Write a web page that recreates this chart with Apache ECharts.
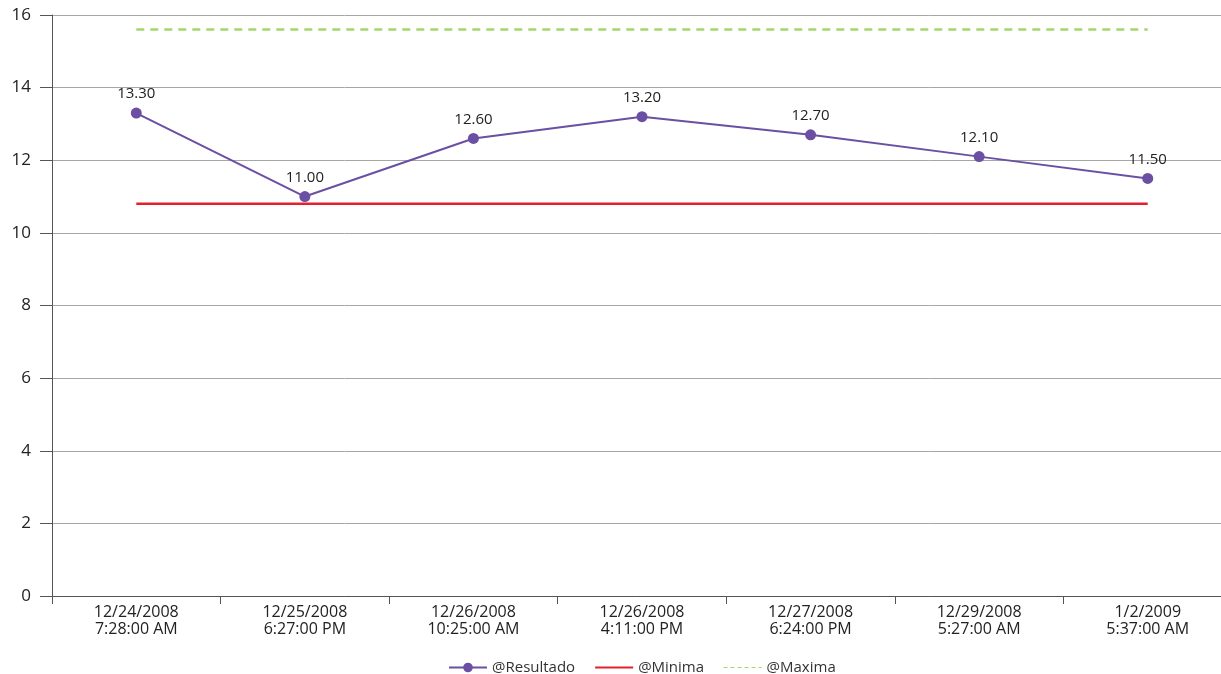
<!DOCTYPE html>
<html>
<head>
<meta charset="utf-8">
<script src="https://cdn.jsdelivr.net/npm/echarts@6/dist/echarts.min.js"></script>
<style>
  html, body { margin: 0; padding: 0; background: #fff; }
  #chart { width: 1221px; height: 674px; }
</style>
</head>
<body>
<div id="chart"></div>
<script>
// Sample timestamps (two-line labels)
const categories = [
  '12/24/2008\n7:28:00 AM',
  '12/25/2008\n6:27:00 PM',
  '12/26/2008\n10:25:00 AM',
  '12/26/2008\n4:11:00 PM',
  '12/27/2008\n6:24:00 PM',
  '12/29/2008\n5:27:00 AM',
  '1/2/2009\n5:37:00 AM'
];
// Measured results
const resultado = [13.30, 11.00, 12.60, 13.20, 12.70, 12.10, 11.50];
// Lower and upper limits
const minima = [10.8, 10.8, 10.8, 10.8, 10.8, 10.8, 10.8];
const maxima = [15.6, 15.6, 15.6, 15.6, 15.6, 15.6, 15.6];
// Value axis ticks
const yTicks = [0, 2, 4, 6, 8, 10, 12, 14, 16];

const font = '"Open Sans", "Noto Sans", sans-serif';
const chart = echarts.init(document.getElementById('chart'));
chart.setOption({
  animation: false,
  textStyle: { fontFamily: font },
  grid: { left: 52, width: 1180, top: 15, height: 581, containLabel: false, outerBoundsMode: 'none' },
  legend: {
    top: 655,
    left: 443,
    itemWidth: 38,
    itemHeight: 12,
    itemGap: 19,
    textStyle: { fontFamily: font, fontSize: 15, color: '#333' },
    data: [
      { name: '@Resultado' },
      { name: '@Minima', itemStyle: { opacity: 0 } },
      { name: '@Maxima', itemStyle: { opacity: 0 }, lineStyle: { color: '#a6d66e', width: 1, type: [4, 3] } }
    ]
  },
  xAxis: {
    type: 'category',
    data: categories,
    boundaryGap: true,
    axisLine: { lineStyle: { color: '#555', width: 1 } },
    axisTick: { show: true, length: 8, lineStyle: { color: '#555' } },
    axisLabel: { margin: 8, fontSize: 16, lineHeight: 17, color: '#222', interval: 0, fontFamily: font },
    splitLine: { show: false }
  },
  yAxis: {
    type: 'value',
    min: yTicks[0],
    max: yTicks[yTicks.length - 1],
    interval: 2,
    axisLine: { show: true, lineStyle: { color: '#555', width: 1 } },
    axisTick: { show: true, length: 12, lineStyle: { color: '#555' } },
    axisLabel: { margin: 21, fontSize: 17, color: '#222', fontFamily: font },
    splitLine: { show: true, lineStyle: { color: '#a6a6a6', width: 1 } }
  },
  series: [
    {
      name: '@Resultado',
      type: 'line',
      data: resultado,
      symbol: 'circle',
      symbolSize: 11,
      itemStyle: { color: '#6a4fa3' },
      lineStyle: { color: '#6a4fa3', width: 2 },
      label: {
        show: true,
        position: 'top',
        distance: 6,
        fontSize: 15,
        color: '#222',
        fontFamily: font,
        formatter: p => p.value.toFixed(2)
      },
      z: 3
    },
    {
      name: '@Minima',
      type: 'line',
      data: minima,
      symbol: 'none',
      itemStyle: { color: '#e3202b' },
      lineStyle: { color: '#e3202b', width: 2.5 }
    },
    {
      name: '@Maxima',
      type: 'line',
      data: maxima,
      symbol: 'none',
      itemStyle: { color: '#a6d66e' },
      lineStyle: { color: '#a6d66e', width: 2.5, type: [8, 6] }
    }
  ]
});
</script>
</body>
</html>
